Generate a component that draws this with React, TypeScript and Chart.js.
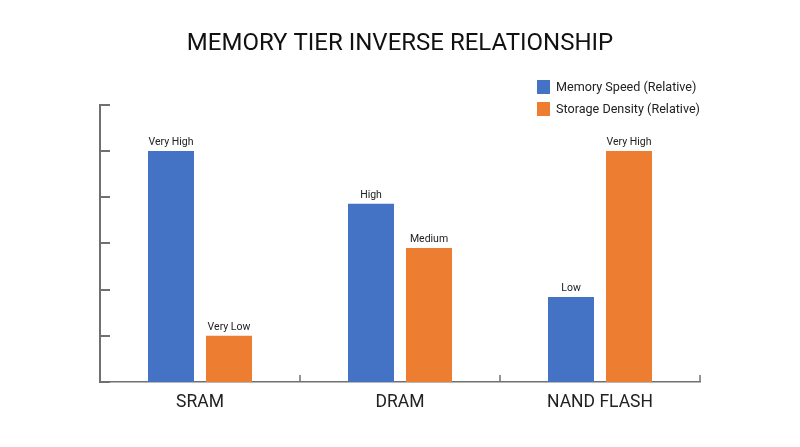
import React, { useEffect, useRef } from "react";
import { Chart, registerables } from "chart.js";

Chart.register(...registerables);

const categories = ["SRAM", "DRAM", "NAND FLASH"];
const speedValues = [5, 3.86, 1.84];
const densityValues = [1, 2.9, 5];
const speedLabels = ["Very High", "High", "Low"];
const densityLabels = ["Very Low", "Medium", "Very High"];
const seriesNames = ["Memory Speed (Relative)", "Storage Density (Relative)"];
const yMin = 0;
const yMax = 6;
const yStep = 1;

const BLUE = "#4472C4";
const ORANGE = "#ED7D31";
const AXIS = "#707070";
const FONT = "Roboto, 'Noto Sans', sans-serif";

const barLabelsPlugin = {
  id: "barLabels",
  afterDatasetsDraw(chart: any) {
    const ctx = chart.ctx;
    const all = [speedLabels, densityLabels];
    ctx.save();
    ctx.font = `10.5px ${FONT}`;
    ctx.fillStyle = "#222";
    ctx.textAlign = "center";
    ctx.textBaseline = "alphabetic";
    chart.data.datasets.forEach((_: any, di: number) => {
      const meta = chart.getDatasetMeta(di);
      meta.data.forEach((el: any, i: number) => {
        ctx.fillText(all[di][i], el.x, el.y - 6);
      });
    });
    ctx.restore();
  },
};

const axisTicksPlugin = {
  id: "axisTicks",
  afterDraw(chart: any) {
    const ctx = chart.ctx;
    const x = chart.scales.x;
    const y = chart.scales.y;
    const area = chart.chartArea;
    ctx.save();
    ctx.strokeStyle = AXIS;
    ctx.lineWidth = 2;
    y.ticks.forEach((t: any) => {
      const py = Math.round(y.getPixelForValue(t.value));
      ctx.beginPath();
      ctx.moveTo(area.left, py);
      ctx.lineTo(area.left + 10, py);
      ctx.stroke();
    });
    ctx.lineWidth = 1.5;
    const n = categories.length;
    for (let i = 0; i < n; i++) {
      const c = x.getPixelForValue(i);
      const next = i < n - 1 ? x.getPixelForValue(i + 1) : c + (c - x.getPixelForValue(i - 1));
      const bx = Math.round((c + next) / 2);
      ctx.beginPath();
      ctx.moveTo(bx, area.bottom);
      ctx.lineTo(bx, area.bottom - 7);
      ctx.stroke();
    }
    ctx.restore();
  },
};

const legendPlugin = {
  id: "customLegend",
  afterDraw(chart: any) {
    const ctx = chart.ctx;
    ctx.save();
    ctx.font = `12.6px ${FONT}`;
    ctx.textBaseline = "middle";
    ctx.textAlign = "left";
    chart.data.datasets.forEach((ds: any, i: number) => {
      const cy = 87 + i * 22;
      ctx.fillStyle = ds.backgroundColor;
      ctx.fillRect(537, cy - 7, 13, 14);
      ctx.fillStyle = "#222";
      ctx.fillText(ds.label, 556, cy + 1);
    });
    ctx.restore();
  },
};

export default function App() {
  const ref = useRef<HTMLCanvasElement>(null);
  useEffect(() => {
    if (!ref.current) return;
    const chart = new Chart(ref.current, {
      type: "bar",
      data: {
        labels: categories,
        datasets: [
          { label: seriesNames[0], data: speedValues, backgroundColor: BLUE },
          { label: seriesNames[1], data: densityValues, backgroundColor: ORANGE },
        ],
      },
      options: {
        animation: false,
        responsive: false,
        devicePixelRatio: 1,
        datasets: { bar: { categoryPercentage: 0.58, barPercentage: 0.793 } },
        layout: { padding: { left: 100, right: 100, top: 0, bottom: 24 } },
        plugins: {
          legend: { display: false },
          tooltip: { enabled: false },
          title: {
            display: true,
            text: "MEMORY TIER INVERSE RELATIONSHIP",
            color: "#111",
            font: { family: FONT, size: 24, weight: "normal" },
            padding: { top: 30, bottom: 46 },
          },
        },
        scales: {
          x: {
            grid: { display: false, drawTicks: false },
            border: { display: true, color: AXIS, width: 1.5 },
            ticks: { color: "#222", font: { family: FONT, size: 17.5 }, padding: 10 },
          },
          y: {
            min: yMin,
            max: yMax,
            ticks: { display: false, stepSize: yStep },
            grid: { display: false, drawTicks: false },
            border: { display: true, color: AXIS, width: 2 },
          },
        },
      },
      plugins: [barLabelsPlugin, axisTicksPlugin, legendPlugin],
    });
    return () => chart.destroy();
  }, []);
  return (
    <div style={{ position: "absolute", left: 0, top: 0, width: 800, height: 447, background: "#fff" }}>
      <canvas ref={ref} width={800} height={447} />
    </div>
  );
}
